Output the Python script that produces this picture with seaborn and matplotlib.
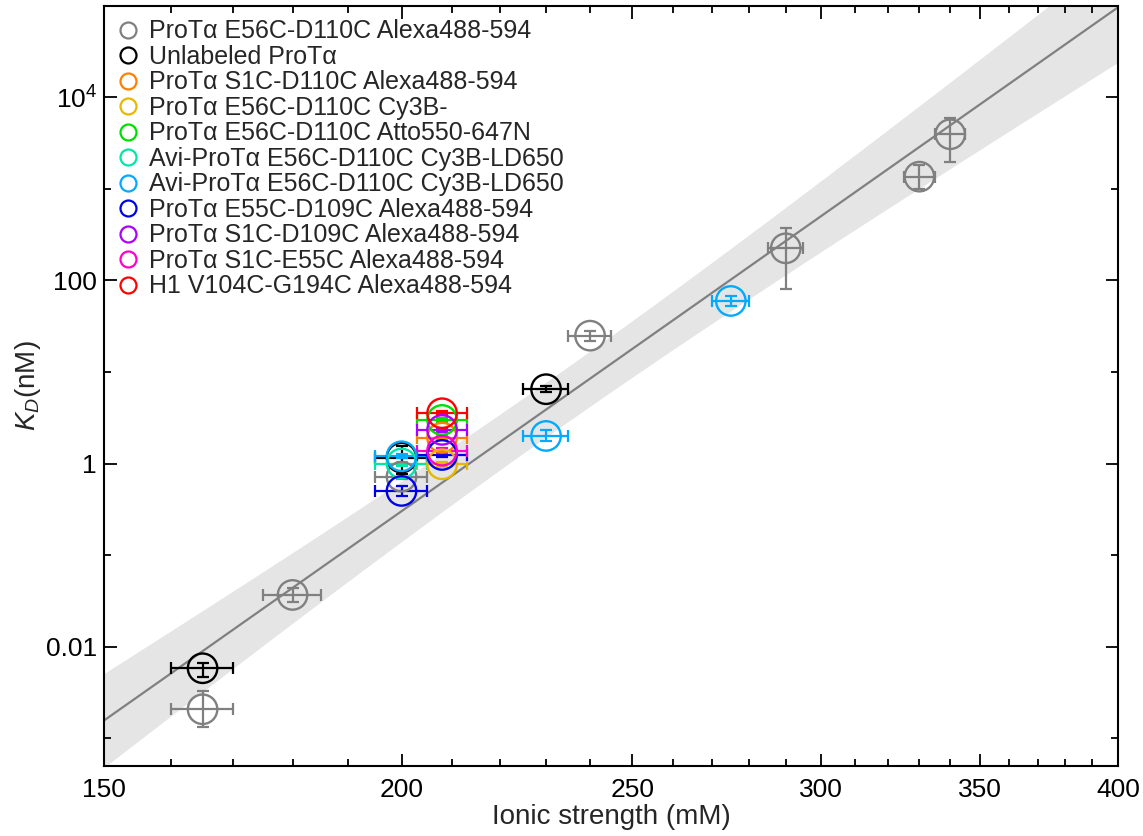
import numpy as np
import pandas as pd
import matplotlib
matplotlib.use('Agg')
import matplotlib.pyplot as plt
import seaborn as sns
from matplotlib.lines import Line2D
from matplotlib.ticker import FixedLocator, FixedFormatter, NullFormatter

# ---- data ----
series_labels = ['ProTα E56C-D110C Alexa488-594', 'Unlabeled ProTα',
                 'ProTα S1C-D110C Alexa488-594', 'ProTα E56C-D110C Cy3B-',
                 'ProTα E56C-D110C Atto550-647N', 'Avi-ProTα E56C-D110C Cy3B-LD650',
                 'Avi-ProTα E56C-D110C Cy3B-LD650', 'ProTα E55C-D109C Alexa488-594',
                 'ProTα S1C-D109C Alexa488-594', 'ProTα S1C-E55C Alexa488-594',
                 'H1 V104C-G194C Alexa488-594']
series_colors = ['#808080', '#000000', '#FF8000', '#E8B800', '#00DD00', '#00E6A8',
                 '#00AAFF', '#0000E6', '#AA00FF', '#FF00CC', '#FF0000']

point_series = [0, 0, 0, 0, 0, 0, 0, 1, 1, 1, 2, 3, 4, 5, 6, 6, 6, 7, 7, 8, 9, 10]
ionic = [165, 180, 200, 240, 290, 330, 340, 165, 200, 230, 208, 208, 208, 200,
         200, 230, 275, 200, 208, 208, 208, 208]
ionic_err = [5] * 22
kd = [2.07e-3, 0.0367, 0.719, 24.9, 224, 1358, 3945, 5.81e-3, 1.16, 6.48, 1.92,
      0.98, 2.99, 1.0, 1.2, 2.0, 59.6, 0.502, 1.24, 2.33, 1.38, 3.54]
kd_lo = [1.32e-3, 0.031, 0.67, 22.0, 80, 988, 1982, 4.72e-3, 0.76, 6.0, 1.80,
         0.91, 2.85, 0.95, 1.14, 1.74, 53, 0.44, 1.19, 2.2, 1.29, 3.35]
kd_hi = [3.27e-3, 0.0435, 0.77, 28.3, 377, 1825, 5900, 6.64e-3, 1.56, 7.0, 2.05,
         1.05, 3.15, 1.05, 1.26, 2.3, 67, 0.57, 1.29, 2.47, 1.48, 3.75]

# power-law fit log10(KD) = a + b*log10(I) and its confidence band (decades)
fit_intercept = -42.607
fit_slope = 18.29
band_min = 0.3
band_center = 232
band_growth = 2.2

df = pd.DataFrame({'series': point_series, 'I': ionic, 'I_err': ionic_err,
                   'KD': kd, 'KD_lo': kd_lo, 'KD_hi': kd_hi})

sns.set_style('ticks')
plt.rcParams['font.family'] = ['Liberation Sans', 'DejaVu Sans']
plt.rcParams['mathtext.fontset'] = 'custom'
plt.rcParams['mathtext.rm'] = 'Liberation Sans'
plt.rcParams['mathtext.it'] = 'Liberation Sans:italic'

fig = plt.figure(figsize=(11.43, 8.36), dpi=100)
ax = fig.add_axes([0.091, 0.084, 0.8874, 0.9092])
ax.set_xscale('log')
ax.set_yscale('log')

# fit line and band
grid = np.geomspace(150, 400, 300)
u = np.log10(grid)
fit = fit_intercept + fit_slope * u
hw = np.sqrt(band_min ** 2 + (band_growth * (u - np.log10(band_center))) ** 2)
ax.fill_between(grid, 10 ** (fit - hw), 10 ** (fit + hw), color='#E5E5E5', lw=0, zorder=0)
ax.plot(grid, 10 ** fit, color='#808080', lw=1.6, zorder=1)

# error bars per series
for s, g in df.groupby('series'):
    ax.errorbar(g['I'], g['KD'], xerr=g['I_err'],
                yerr=[g['KD'] - g['KD_lo'], g['KD_hi'] - g['KD']],
                fmt='none', ecolor=series_colors[s], elinewidth=1.6,
                capsize=4, capthick=1.6, zorder=2)

# open circles
palette = {i: c for i, c in enumerate(series_colors)}
sns.scatterplot(data=df, x='I', y='KD', hue='series', palette=palette, s=450,
                marker='o', linewidth=1.7, legend=False, ax=ax, zorder=3)
pts = ax.collections[-1]
pts.set_edgecolors(pts.get_facecolors())
pts.set_facecolors('none')

ax.set_xlim(150, 400)
ax.set_ylim(5e-4, 1e5)

ax.xaxis.set_major_locator(FixedLocator([150, 200, 250, 300, 350, 400]))
ax.xaxis.set_major_formatter(FixedFormatter(['150', '200', '250', '300', '350', '400']))
ax.xaxis.set_minor_locator(FixedLocator([v for v in range(160, 400, 10) if v % 50]))
ax.xaxis.set_minor_formatter(NullFormatter())
ax.yaxis.set_major_locator(FixedLocator([1e-2, 1, 1e2, 1e4]))
ax.yaxis.set_major_formatter(FixedFormatter(['0.01', '1', '100', r'$10^4$']))
ax.yaxis.set_minor_locator(FixedLocator([1e-3, 1e-1, 10, 1e3]))
ax.yaxis.set_minor_formatter(NullFormatter())

ax.tick_params(which='both', direction='in', top=True, right=True, width=1.3, colors='black')
ax.tick_params(which='major', length=9, labelsize=19)
ax.tick_params(which='minor', length=5)
ax.tick_params(axis='x', which='major', pad=9)
ax.tick_params(axis='y', which='major', pad=5)
for sp in ax.spines.values():
    sp.set_linewidth(1.5)
    sp.set_color('black')

ax.set_xlabel('Ionic strength (mM)', fontsize=20, labelpad=1)
ax.set_ylabel(r'$K_D$(nM)', fontsize=20, labelpad=2)

handles = [Line2D([], [], ls='none', marker='o', ms=11.5, mfc='none', mec=c, mew=1.6)
           for c in series_colors]
ax.legend(handles, series_labels, loc='upper left', frameon=False, fontsize=18,
          handlelength=0.8, handletextpad=0.45, labelspacing=0.06,
          borderaxespad=0.25, borderpad=0.3)

fig.savefig('out.png', dpi=100)
